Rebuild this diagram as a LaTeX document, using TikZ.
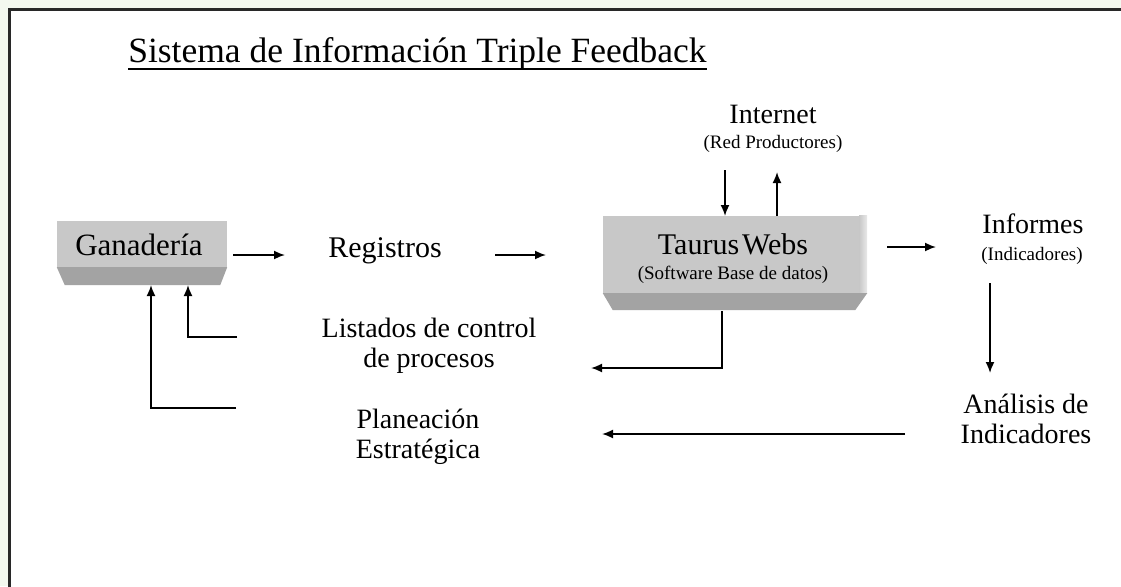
\documentclass[tikz,border=0pt]{standalone}
\usepackage{fontspec}
\setmainfont{Liberation Serif}
\usetikzlibrary{arrows.meta}
\definecolor{bgc}{RGB}{243,248,239}
\definecolor{framec}{RGB}{40,40,40}
\definecolor{facec}{RGB}{200,200,200}
\definecolor{bevelc}{RGB}{163,163,163}
\begin{document}
\begin{tikzpicture}[x=1pt,y=-1pt,
  lbl/.style={font=\fontsize{28}{30}\selectfont, align=center, inner sep=0pt, anchor=base},
  big/.style={font=\fontsize{30}{32}\selectfont, inner sep=0pt, anchor=base},
  small/.style={font=\fontsize{19}{21}\selectfont, inner sep=0pt, anchor=base},
  boxface/.style={fill=facec, draw=none, inner sep=0pt},
  bevel/.style={fill=bevelc, draw=none},
  arr/.style={line width=1.7pt, -{Latex[length=11pt,width=9pt]}},
  ln/.style={line width=1.7pt}]
\useasboundingbox (0,0) rectangle (1121,586);
\fill[bgc] (0,0) rectangle (1121,586);
\begin{scope}
\clip (0,0) rectangle (1121,586);
\fill[white] (9.5,9.5) rectangle (1130,600);
\draw[framec, line width=3pt] (1130,9.5) -- (9.5,9.5) -- (9.5,600);
\end{scope}

% title
\node[font=\fontsize{35.5}{38}\selectfont, inner sep=0pt, anchor=base] (title) at (417.5,63) {Sistema de Información Triple Feedback};
\draw[line width=1.3pt] ([yshift=-6pt]title.base west) -- ([yshift=-6pt]title.base east);

% Ganaderia box
\node[boxface, minimum width=170pt, minimum height=46pt] (gan) at (142,244) {};
\fill[bevel] (gan.south west) -- (gan.south east) -- ++(-7,18) -- ([xshift=8pt,yshift=-18pt]gan.south west) -- cycle;
\node[big, font=\fontsize{31}{33}\selectfont] (gant) at (139,255) {Ganadería};

% Taurus Webs box
\node[boxface, minimum width=264pt, minimum height=77pt] (tw) at (735,254.5) {};
\shade[left color=facec, right color=facec!40] ([xshift=-8pt]tw.north east) rectangle (tw.south east);
\fill[bevel] (tw.south west) -- (tw.south east) -- ++(-12,17) -- ([xshift=10pt,yshift=-17pt]tw.south west) -- cycle;
\node[big] (twt) at (733,254) {Taurus\hspace{3pt}Webs};
\node[small] (tws) at (733,279) {(Software Base de datos)};

% other labels
\node[big] (reg) at (385,257) {Registros};
\node[lbl] (lis) at (429,367) {Listados de control\\de procesos};
\node[lbl] (pla) at (418,458) {Planeación\\Estratégica};
\node[lbl] (inet) at (773,123) {Internet};
\node[small] (inets) at (773,148) {(Red Productores)};
\node[lbl] (inf) at (1033,233) {Informes};
\node[small] (infs) at (1032,260) {(Indicadores)};
\node[lbl] (ana) at (1026,443) {Análisis de\\Indicadores};

% coordinates
\coordinate (a1s) at (233,255);  \coordinate (a1e) at (285,255);
\coordinate (a2s) at (495,255);  \coordinate (a2e) at (546,255);
\coordinate (a3s) at (887,247);  \coordinate (a3e) at (936,247);
\coordinate (i1s) at (725,170);  \coordinate (i1e) at (725,216);
\coordinate (i2s) at (777,216);  \coordinate (i2e) at (777,172);
\coordinate (d1s) at (990,283);  \coordinate (d1e) at (990,373);
\coordinate (p1s) at (905,434);  \coordinate (p1e) at (602,434);
\coordinate (l1s) at (722,311);  \coordinate (l1e) at (591,368);
\coordinate (f1s) at (237,337);  \coordinate (f1e) at (188,285);
\coordinate (f2s) at (236,408);  \coordinate (f2e) at (151,285);

\draw[arr] (a1s) -- (a1e);
\draw[arr] (a2s) -- (a2e);
\draw[arr] (a3s) -- (a3e);
\draw[arr] (i1s) -- (i1e);
\draw[arr] (i2s) -- (i2e);
\draw[arr] (d1s) -- (d1e);
\draw[arr] (p1s) -- (p1e);
\draw[arr] (l1s) |- (l1e);
\draw[arr] (f1s) -| (f1e);
\draw[arr] (f2s) -| (f2e);
\end{tikzpicture}
\end{document}
